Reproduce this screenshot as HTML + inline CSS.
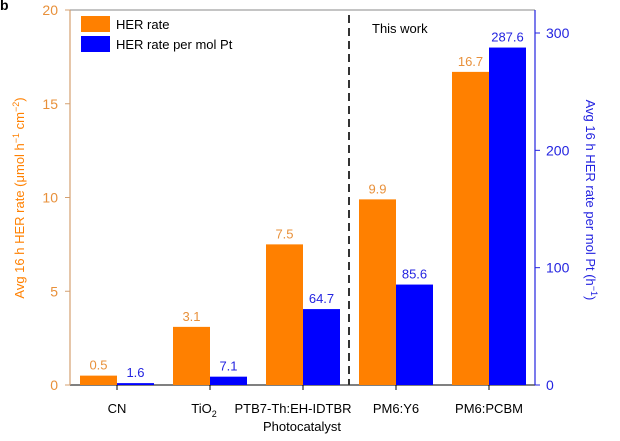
<!DOCTYPE html>
<html><head><meta charset="utf-8"><style>
body{margin:0;background:#fff}
svg{display:block;font-family:"Liberation Sans",sans-serif}
</style></head><body>
<svg id="chart" width="620" height="441"></svg>
<script>
const categories=["CN","TiO2","PTB7-Th:EH-IDTBR","PM6:Y6","PM6:PCBM"];
const herRate=[0.5,3.1,7.5,9.9,16.7];
const herPerPt=[1.6,7.1,64.7,85.6,287.6];
const leftTicks=[0,5,10,15,20];
const rightTicks=[0,100,200,300];
const NS="http://www.w3.org/2000/svg";
const svg=document.getElementById('chart');
const X0=70,X1=535,Y0=385,Y1=10;
const yL=v=>Y0-(v/20)*(Y0-Y1);
const yR=v=>Y0-(v/300)*(Y0-33);
const step=93,first=117,bw=37;
const cx=i=>first+i*step;
function el(t,a,txt){const e=document.createElementNS(NS,t);for(const k in a)e.setAttribute(k,a[k]);if(txt!=null)e.textContent=txt;svg.appendChild(e);return e;}
// frame
let e=el('line',{x1:X0,y1:Y1,x2:X1,y2:Y1,stroke:'#888','stroke-width':1});

e=el('line',{x1:X0,y1:Y0,x2:X1,y2:Y0,stroke:'#000','stroke-width':1});

e=el('line',{x1:X0,y1:Y1,x2:X0,y2:Y0,stroke:'#d4a070','stroke-width':1.2});

e=el('line',{x1:X1,y1:Y1,x2:X1,y2:Y0,stroke:'#2323e0','stroke-width':1.2});

leftTicks.forEach(v=>{
 el('line',{x1:X0-5,y1:yL(v),x2:X0,y2:yL(v),stroke:'#d4a070'});
 const t=el('text',{x:X0-12,y:yL(v)+5,'text-anchor':'end','font-size':14,fill:'#e8903a'},v);
 
});
rightTicks.forEach(v=>{
 el('line',{x1:X1,y1:yR(v),x2:X1+5,y2:yR(v),stroke:'#2323e0'});
 const t=el('text',{x:X1+11,y:yR(v)+5,'font-size':14,fill:'#2323e0'},v);
 
});
categories.forEach((c,i)=>{
 el('line',{x1:cx(i),y1:Y0,x2:cx(i),y2:Y0+5,stroke:'#000'});
 const yo=yL(herRate[i]);
 const b1=el('rect',{x:cx(i)-bw,y:yo,width:bw,height:Y0-yo,fill:'#ff8000'});
 
 const yb=yR(herPerPt[i]);
 const b2=el('rect',{x:cx(i),y:yb,width:bw,height:Y0-yb,fill:'#0000ff'});
 
 const l1=el('text',{x:cx(i)-bw/2,y:yo-6,'text-anchor':'middle','font-size':13,fill:'#e8903a'},herRate[i].toFixed(1));
 
 const l2=el('text',{x:cx(i)+bw/2,y:yb-6,'text-anchor':'middle','font-size':13,fill:'#2323e0'},herPerPt[i].toFixed(1));
 
 let lab;
 if(c==="TiO2"){lab=el('text',{x:cx(i)-6,y:Y0+28,'text-anchor':'middle','font-size':13,fill:'#000'});
  lab.innerHTML='TiO<tspan font-size="9" dy="4">2</tspan>';}
 else {lab=el('text',{x:cx(i)+(i==2?-10:0),y:Y0+28,'text-anchor':'middle','font-size':13,fill:'#000'},c);}
 
});
e=el('line',{x1:349,y1:Y1+5,x2:349,y2:Y0,stroke:'#333','stroke-width':2,'stroke-dasharray':'8,5'});

e=el('text',{x:372,y:33,'font-size':13,fill:'#000'},'This work');

e=el('text',{x:302,y:431,'text-anchor':'middle','font-size':13,fill:'#000'},'Photocatalyst');

e=el('text',{transform:'translate(24,198) rotate(-90)','text-anchor':'middle','font-size':13,fill:'#ff8000'});
e.innerHTML='Avg 16 h HER rate (μmol h<tspan dy="-5" font-size="9">−1</tspan><tspan dy="5"> cm</tspan><tspan dy="-5" font-size="9">−2</tspan><tspan dy="5">)</tspan>';

e=el('text',{transform:'translate(586,200) rotate(90)','text-anchor':'middle','font-size':13,fill:'#2323e0'});
e.innerHTML='Avg 16 h HER rate per mol Pt (h<tspan dy="-5" font-size="9">−1</tspan><tspan dy="5">)</tspan>';

// legend
e=el('rect',{x:81,y:16,width:29,height:16,fill:'#ff8000'});

e=el('text',{x:116,y:29,'font-size':13,fill:'#000'},'HER rate');

e=el('rect',{x:81,y:36,width:29,height:16,fill:'#0000ff'});

e=el('text',{x:116,y:49,'font-size':13,fill:'#000'},'HER rate per mol Pt');

e=el('text',{x:0,y:10,'font-size':14,'font-weight':'bold',fill:'#000'},'b');

</script>
</body></html>
